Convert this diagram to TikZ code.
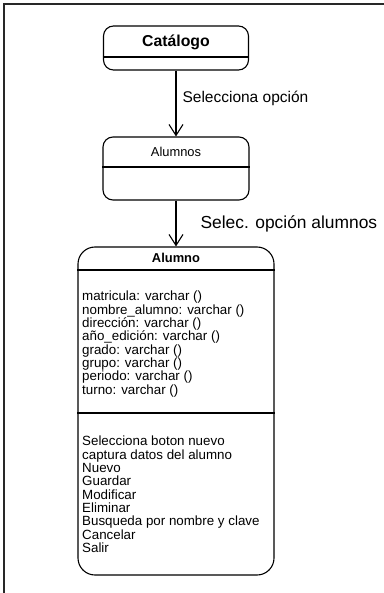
\documentclass[tikz,border=0pt]{standalone}
\usepackage{fontspec}
\setmainfont{Liberation Sans}
\usepackage{xcolor}
\usetikzlibrary{arrows.meta}
\definecolor{framegray}{RGB}{40,40,40}

\begin{document}
\begin{tikzpicture}[x=1pt,y=-1pt,>={Straight Barb[length=11pt,width=14pt]},
  state/.style={draw,line width=1.1pt,rounded corners=10pt,inner sep=0pt},
  lbl/.style={inner sep=0pt,font=\fontsize{15.5}{18}\selectfont},
  list/.style={align=left,anchor=north west,inner sep=0pt,font=\fontsize{13.35}{13.35}\selectfont}]
\useasboundingbox (0,0) rectangle (383,593);
% marco
\draw[framegray,line width=1.8pt] (4,620) -- (4,4) -- (400,4);
% estados
\node[state,minimum width=145pt,minimum height=44pt] (cat) at (176,48) {};
\node[state,minimum width=146pt,minimum height=63pt] (alus) at (176,168.5) {};
\node[state,rounded corners=17pt,minimum width=196pt,minimum height=328pt] (alu) at (176,411) {};
\node[font=\fontsize{15.8}{18}\bfseries] (catname) at (176,42) {Catálogo};
\node[font=\fontsize{12.9}{15}\selectfont] (alusname) at (176,152) {Alumnos};
\node[font=\fontsize{12.9}{15}\bfseries] (aluname) at (176,258) {Alumno};
\draw[line width=1.1pt] (cat.west |- 0,57) -- (cat.east |- 0,57);
\draw[line width=1.1pt] (alus.west |- 0,167) -- (alus.east |- 0,167);
\draw[line width=1.1pt] (alu.west |- 0,270) -- (alu.east |- 0,270);
\draw[line width=1.1pt] (alu.west |- 0,413) -- (alu.east |- 0,413);
% contenido de Alumno
\node[list] (attrs) at (82,291) {matricula: varchar ()\\
  nombre\_alumno: varchar ()\\
  dirección: varchar ()\\
  año\_edición: varchar ()\\
  grado: varchar ()\\
  grupo: varchar ()\\
  periodo: varchar ()\\
  turno: varchar ()};
\node[list] (ops) at (82,436) {Selecciona boton nuevo\\
  captura datos del alumno\\
  Nuevo\\
  Guardar\\
  Modificar\\
  Eliminar\\
  Busqueda por nombre y clave\\
  Cancelar\\
  Salir};
% transiciones
\draw[->,line width=1.1pt] (cat) -- (alus) node[lbl,pos=0.42,right=6pt] (sel1) {Selecciona opción};
\draw[->,line width=1.1pt] (alus) -- (alu) node[lbl,pos=0.5,right=24pt,font=\fontsize{17.4}{20}\selectfont] (sel2) {Selec. opción alumnos};
\end{tikzpicture}
\end{document}
